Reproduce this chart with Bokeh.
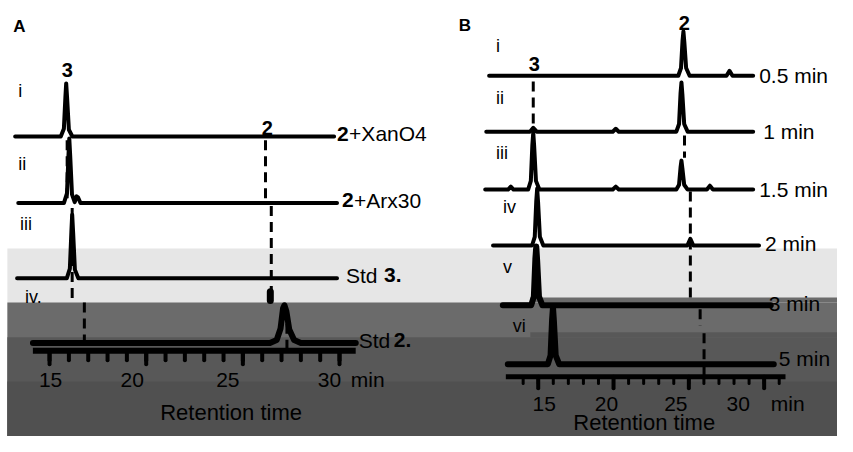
from bokeh.plotting import figure
from bokeh.models import Range1d
from bokeh.embed import file_html
from bokeh.resources import INLINE
from bokeh.core.properties import value

FONT = value("Liberation Sans")

# ============================ DATA ============================
# Panel A: HPLC traces (retention time in min, detector signal in arbitrary units)
a_i_time = [13.22, 15.58, 15.74, 15.82, 15.86, 15.91, 16.00, 16.18, 29.72]
a_i_signal = [0, 0, 8, 41, 55, 39, 7, 0, 0]

a_ii_time = [13.38, 15.74, 15.90, 15.98, 16.02, 16.07, 16.16, 16.30, 16.40, 16.47, 16.60, 29.87]
a_ii_signal = [0, 0, 10, 50, 67, 48, 9, 1, 7, 6, 0, 0]

a_iii_time = [13.32, 15.89, 16.05, 16.13, 16.17, 16.22, 16.31, 16.49, 29.87]
a_iii_signal = [0, 0, 10, 49, 66, 47, 9, 0, 0]

a_iv_time = [14.14, 26.40, 26.75, 26.95, 27.08, 27.15, 27.25, 27.40, 27.65, 28.00, 30.84]
a_iv_signal = [0, 0, 3, 15, 36, 39, 33, 14, 3, 0, 0]

a_numerals = ["i", "ii", "iii", "iv."]
a_label_main = ["2", "2", "Std ", "Std "]
a_label_rest = ["+XanO4", "+Arx30", "3.", "2."]
a_label_bold_first = [True, True, False, False]

a_ticks_minor = list(range(15, 31))
a_ticks_major = [15, 20, 25, 30]
a_tick_labels = ["15", "20", "25", "30"]

# guide lines (retention time, signal level from, to)
a_guide_time = [15.91, 16.17, 16.80, 26.17, 26.47, 27.28]
a_guide_from = [307, 237, 139, 307, 239, 117]
a_guide_to = [247, 139, 89, 247, 152, 90]

# Panel B: time course traces
b_i_time = [11.74, 24.30, 24.48, 24.58, 24.64, 24.70, 24.82, 25.05, 27.50, 27.70, 27.90, 29.27]
b_i_signal = [0, 0, 8, 36, 46, 35, 8, 0, 0, 5, 0, 0]

b_ii_time = [11.55, 14.45, 14.67, 14.90, 19.95, 20.15, 20.35, 24.17, 24.35, 24.45, 24.51,
             24.57, 24.69, 24.92, 29.27]
b_ii_signal = [0, 0, 4, 0, 0, 3, 0, 0, 8, 40, 51, 39, 8, 0, 0]

b_iii_time = [11.48, 13.00, 13.18, 13.36, 14.33, 14.51, 14.61, 14.67, 14.73, 14.85, 15.08,
              19.95, 20.15, 20.35, 24.17, 24.35, 24.45, 24.51, 24.57, 24.69, 24.92,
              26.20, 26.40, 26.60, 29.27]
b_iii_signal = [0, 0, 3, 0, 0, 9, 46, 59, 45, 9, 0, 0, 3, 0, 0, 5, 23, 30, 22, 5, 0,
                0, 4, 0, 0]

b_iv_time = [12.00, 14.59, 14.77, 14.87, 14.93, 14.99, 15.11, 15.34, 24.90, 25.10, 25.30, 29.66]
b_iv_signal = [0, 0, 9, 46, 59, 45, 9, 0, 0, 7, 0, 0]

b_v_time = [12.65, 14.53, 14.71, 14.81, 14.87, 14.93, 15.05, 15.28, 30.44]
b_v_signal = [0, 0, 9, 48, 61, 46, 9, 0, 0]

b_vi_time = [12.98, 15.64, 15.82, 15.92, 15.98, 16.04, 16.16, 16.39, 30.64]
b_vi_signal = [0, 0, 9, 46, 59, 45, 9, 0, 0]

b_numerals = ["i", "ii", "iii", "iv", "v", "vi"]
b_labels = ["0.5 min", "1 min", "1.5 min", "2 min", "3 min", "5 min"]

b_ticks_minor = list(range(14, 32))
b_ticks_major = [15, 20, 25, 30]
b_tick_labels = ["15", "20", "25", "30"]

b_guide_time = [14.67, 24.71, 25.10, 25.75, 26.01]
b_guide_from = [368, 312, 254, 132, 107]
b_guide_to = [322, 289, 142, 115, 62]

# ============================ LAYOUT ============================
W, H = 837, 436


def xa(X):
    return 15 + (X - 50) / 19.7


def xb(X):
    return 15 + (X - 548) / 15.35


def yy(Y):
    return 452 - Y


A_BASE = [311, 242, 164, 97]
A_LW = [4, 4, 4, 6]
A_END_DX = [3, 5, 9, 3]
A_SECOND_DX = [12, 12, 38, 35]
A_NUM_POS = [(18, 94), (18, 170), (20, 232), (25, 307)]

B_BASE = [374, 316, 256, 198, 136, 75]
B_LW = [4, 4, 4, 4, 6, 6]
B_END_DX = [6, 10, 6, 6, -2, 5]
B_LABEL_DY = [0, 0, 0, 2, 2, 6]
B_NUM_POS = [(505, 47), (505, 101), (505, 158), (512, 214), (512, 276), (522, 337)]

LIGHT, MED, DARK, DARKER = "#e6e6e6", "#6b6b6b", "#585858", "#505050"

p = figure(width=W, height=H, x_range=Range1d(xa(0), xa(853)), y_range=Range1d(0, 452),
           x_axis_type=None, y_axis_type=None, toolbar_location=None,
           output_backend="svg", min_border=0, outline_line_color=None,
           background_fill_color="white", border_fill_color="white")
p.extra_x_ranges = {"b": Range1d(xb(0), xb(853))}

# background bands: painter's order, each band reaches the bottom
for top, color in [(195, LIGHT), (139, MED), (103, DARK), (57, DARKER)]:
    p.quad(left=xa(7), right=xa(860), top=top, bottom=-20, fill_color=color,
           line_color=None, level="underlay")
# right part of panel B: bands shifted slightly upward
p.quad(left=xa(540), right=xa(860), top=144, bottom=139, fill_color=MED,
       line_color=None, level="underlay")
p.quad(left=xa(540), right=xa(860), top=108, bottom=103, fill_color=DARK,
       line_color=None, level="underlay")


def txt(x, y, t, size, bold=False, align="left", dx=0, rng="default"):
    p.text(x=x, y=y, text=t, text_font=FONT, text_font_size=size,
           text_font_style="bold" if bold else "normal", text_align=align,
           text_baseline="middle", text_color="black", x_offset=dx, x_range_name=rng)


# ---------------- Panel A ----------------
a_traces = [(a_i_time, a_i_signal), (a_ii_time, a_ii_signal),
            (a_iii_time, a_iii_signal), (a_iv_time, a_iv_signal)]
for k, (t, s) in enumerate(a_traces):
    base = A_BASE[k]
    p.line(t, [base + v for v in s], line_color="black", line_width=A_LW[k],
           line_join="round", line_cap="round")
    first_bold = a_label_bold_first[k]
    txt([t[-1]], [base + 3], [a_label_main[k]], "21px", bold=first_bold, dx=A_END_DX[k])
    txt([t[-1]], [base + 3], [a_label_rest[k]], "21px", bold=not first_bold,
        dx=A_END_DX[k] + A_SECOND_DX[k])
    X, Y = A_NUM_POS[k]
    txt([xa(X)], [yy(Y)], [a_numerals[k]], "18px")

p.segment(x0=a_guide_time, y0=a_guide_from, x1=a_guide_time, y1=a_guide_to,
          line_color="black", line_width=3, line_dash="10 6")
p.segment(x0=[26.42], y0=[150], x1=[26.42], y1=[141], line_color="black",
          line_width=7, line_cap="round")

ay = yy(363)
p.segment(x0=[xa(33)], y0=[ay], x1=[xa(362)], y1=[ay], line_color="black", line_width=6)
p.segment(x0=a_ticks_minor, y0=[ay] * len(a_ticks_minor), x1=a_ticks_minor,
          y1=[ay - 10] * len(a_ticks_minor), line_color="black", line_width=4, line_cap="round")
p.segment(x0=a_ticks_major, y0=[ay] * 4, x1=a_ticks_major, y1=[ay - 14] * 4,
          line_color="black", line_width=4, line_cap="round")
txt(a_ticks_major, [yy(393)] * 4, a_tick_labels, "21px", align="center", dx=[1, -14, -15, -10])
txt([xa(357)], [yy(393)], ["min"], "21px")
txt([xa(235)], [yy(427)], ["Retention time"], "22px", align="center")
txt([xa(68)], [yy(72)], ["3"], "20px", bold=True, align="center")
txt([xa(272)], [yy(132)], ["2"], "20px", bold=True, align="center")
txt([xa(13)], [yy(27)], ["A"], "17px", bold=True)

# ---------------- Panel B ----------------
b_traces = [(b_i_time, b_i_signal), (b_ii_time, b_ii_signal), (b_iii_time, b_iii_signal),
            (b_iv_time, b_iv_signal), (b_v_time, b_v_signal), (b_vi_time, b_vi_signal)]
for k, (t, s) in enumerate(b_traces):
    base = B_BASE[k]
    p.line(t, [base + v for v in s], line_color="black", line_width=B_LW[k],
           line_join="round", line_cap="round", x_range_name="b")
    txt([t[-1]], [base + B_LABEL_DY[k]], [b_labels[k]], "21px", dx=B_END_DX[k], rng="b")
    X, Y = B_NUM_POS[k]
    txt([xb(X)], [yy(Y)], [b_numerals[k]], "18px", rng="b")

p.segment(x0=b_guide_time, y0=b_guide_from, x1=b_guide_time, y1=b_guide_to,
          line_color="black", line_width=3, line_dash="10 6", x_range_name="b")

by = yy(390)
p.segment(x0=[xb(515)], y0=[by], x1=[xb(800)], y1=[by], line_color="black", line_width=5,
          x_range_name="b")
p.segment(x0=b_ticks_minor, y0=[by] * len(b_ticks_minor), x1=b_ticks_minor,
          y1=[by - 7] * len(b_ticks_minor), line_color="black", line_width=3, line_cap="round",
          x_range_name="b")
p.segment(x0=b_ticks_major, y0=[by] * 4, x1=b_ticks_major, y1=[by - 12] * 4,
          line_color="black", line_width=4, line_cap="round", x_range_name="b")
txt(b_ticks_major, [yy(418)] * 4, b_tick_labels, "21px", align="center",
    dx=[6, -7, -13, -26], rng="b")
txt([xb(785)], [yy(418)], ["min"], "21px", rng="b")
txt([xb(656)], [yy(438)], ["Retention time"], "22px", align="center", rng="b")
txt([xb(697)], [yy(23)], ["2"], "20px", bold=True, align="center", rng="b")
txt([xb(544)], [yy(66)], ["3"], "20px", bold=True, align="center", rng="b")
txt([xb(467)], [yy(26)], ["B"], "17px", bold=True, rng="b")

open("out.html", "w").write(file_html(p, INLINE))
